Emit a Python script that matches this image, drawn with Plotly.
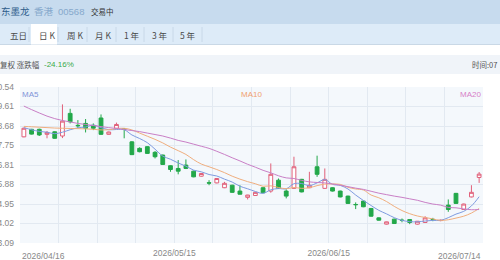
import plotly.graph_objects as go
import numpy as np

# ---------------- data ----------------
open_ = [8.16, 8.52, 8.52, 8.28, 8.40, 8.20, 9.28, 8.71, 8.80, 8.71,
         9.06, 8.28, 8.57, 8.54, 7.92, 7.61, 7.69, 7.42, 7.29, 6.78,
         6.65, 6.81, 6.52, 6.28, 5.97, 5.96, 5.73, 5.85, 5.57, 5.27,
         5.36, 5.73, 5.57, 6.09, 5.57, 5.70, 6.13, 5.73, 6.73, 5.70,
         5.73, 5.57, 5.33, 4.93, 5.09, 4.74, 4.29, 3.99, 4.23, 4.18,
         4.21, 3.99, 4.07, 4.22, 4.16, 4.90, 5.46, 4.69, 5.29, 6.22]
high = [8.60, 8.54, 8.55, 8.44, 8.42, 9.71, 9.50, 8.96, 9.01, 8.80,
        9.23, 8.41, 8.84, 8.55, 7.95, 7.66, 7.71, 7.48, 7.31, 6.80,
        7.05, 7.08, 6.55, 6.43, 6.09, 6.19, 6.01, 5.87, 5.85, 5.39,
        5.52, 5.75, 6.89, 6.17, 5.65, 7.21, 6.15, 6.49, 7.26, 6.65,
        5.75, 5.59, 5.35, 5.03, 5.11, 4.76, 4.31, 4.11, 4.25, 4.26,
        4.23, 4.14, 4.37, 4.29, 4.21, 5.17, 5.48, 4.97, 5.85, 6.48]
low = [8.14, 8.27, 8.20, 8.09, 8.07, 8.10, 8.80, 8.57, 8.37, 8.48,
       8.25, 8.26, 8.56, 8.09, 7.29, 7.42, 7.35, 7.13, 6.82, 6.49,
       6.37, 6.62, 6.23, 6.26, 5.85, 5.94, 5.71, 5.49, 5.41, 5.17,
       5.34, 5.47, 5.49, 5.68, 5.22, 5.68, 5.51, 5.71, 6.25, 5.68,
       5.55, 5.27, 4.96, 4.71, 4.80, 4.35, 4.16, 3.97, 4.00, 4.08,
       3.99, 3.97, 4.05, 4.13, 4.13, 4.58, 4.96, 4.67, 5.27, 5.96]
close = [8.57, 8.29, 8.25, 8.37, 8.09, 8.91, 8.88, 8.69, 8.57, 8.57,
         8.28, 8.39, 8.75, 8.52, 7.31, 7.45, 7.37, 7.21, 6.84, 6.60,
         6.52, 6.65, 6.25, 6.41, 5.95, 6.17, 5.94, 5.51, 5.42, 5.38,
         5.51, 5.49, 6.37, 5.70, 5.33, 6.73, 5.53, 5.85, 6.37, 6.13,
         5.57, 5.29, 4.98, 4.92, 4.82, 4.37, 4.18, 4.10, 4.02, 4.17,
         4.07, 4.13, 4.29, 4.21, 4.17, 4.69, 4.98, 4.95, 5.51, 6.38]
ma5 = [8.60, 8.50, 8.42, 8.38, 8.31, 8.38, 8.50, 8.59, 8.63, 8.72,
       8.60, 8.50, 8.51, 8.50, 8.25, 8.08, 7.88, 7.57, 7.24, 7.09,
       6.91, 6.76, 6.57, 6.49, 6.36, 6.29, 6.14, 6.00, 5.80, 5.68,
       5.55, 5.46, 5.63, 5.69, 5.68, 5.92, 5.93, 5.83, 5.96, 6.12,
       5.89, 5.84, 5.67, 5.38, 5.12, 4.88, 4.65, 4.48, 4.30, 4.17,
       4.11, 4.10, 4.14, 4.17, 4.17, 4.30, 4.47, 4.60, 4.86, 5.30]
ma10 = [8.66, 8.64, 8.62, 8.60, 8.58, 8.57, 8.56, 8.55, 8.54, 8.52,
        8.49, 8.50, 8.55, 8.57, 8.49, 8.34, 8.19, 8.04, 7.87, 7.67,
        7.50, 7.32, 7.07, 6.86, 6.73, 6.60, 6.45, 6.28, 6.14, 6.02,
        5.92, 5.80, 5.82, 5.74, 5.68, 5.74, 5.70, 5.73, 5.83, 5.90,
        5.91, 5.89, 5.75, 5.67, 5.62, 5.38, 5.25, 5.07, 4.84, 4.64,
        4.49, 4.38, 4.31, 4.24, 4.17, 4.20, 4.28, 4.37, 4.52, 4.74]
ma20 = [9.63, 9.46, 9.30, 9.15, 9.03, 8.94, 8.87, 8.80, 8.75, 8.70,
        8.65, 8.60, 8.56, 8.51, 8.46, 8.41, 8.34, 8.27, 8.20, 8.10,
        7.99, 7.91, 7.81, 7.71, 7.61, 7.47, 7.32, 7.16, 7.01, 6.85,
        6.71, 6.56, 6.44, 6.30, 6.20, 6.17, 6.08, 6.01, 5.98, 5.96,
        5.91, 5.85, 5.78, 5.71, 5.65, 5.56, 5.47, 5.40, 5.33, 5.27,
        5.20, 5.13, 5.03, 4.95, 4.90, 4.79, 4.77, 4.72, 4.68, 4.69]
y_tick_labels = ["10.54", "9.61", "8.68", "7.75", "6.81", "5.88", "4.95", "4.02", "3.09"]
x_tick_labels = ["2026/04/16", "2026/05/15", "2026/06/15", "2026/07/14"]
x_tick_index = [0, 20, 40, 59]
ma_names = ["MA5", "MA10", "MA20"]

# ---------------- style ----------------
RED = "#E0607A"
GREEN = "#23A84A"
MA_COLORS = ["#7E9BE0", "#F0AE7E", "#C97FC6"]
MA_LABEL_COLORS = ["#8093D8", "#F0A070", "#D77FC8"]
FONT = "Liberation Sans, Arial, Noto Sans CJK SC"
CJK = "Noto Sans CJK SC, Liberation Sans"

W, H = 500, 260
L, R, T, B = 20, 483, 87, 243
n = len(close)
xs = list(range(n))


def px(x):
    return (x - L) / (R - L)


def py(y):
    return (B - y) / (B - T)


fig = go.Figure()
fig.add_trace(go.Candlestick(
    x=xs, open=open_, high=high, low=low, close=close,
    increasing=dict(line=dict(color=RED, width=1), fillcolor="white"),
    decreasing=dict(line=dict(color=GREEN, width=1), fillcolor=GREEN),
    whiskerwidth=0, showlegend=False, hoverinfo="skip"))
for name, vals, col in zip(ma_names, [ma5, ma10, ma20], MA_COLORS):
    fig.add_trace(go.Scatter(x=xs, y=vals, mode="lines", name=name,
                             line=dict(color=col, width=1, shape="spline"),
                             showlegend=False, hoverinfo="skip"))

ymin, ymax = float(y_tick_labels[-1]), float(y_tick_labels[0])
ytv = list(np.linspace(ymax, ymin, len(y_tick_labels)))

grid_x = [-0.5 + 5 * k for k in range(13)]
mid_pos = {x_tick_index[i] - 0.5: x_tick_labels[i] for i in (1, 2)}
xtt = [mid_pos.get(g, "") for g in grid_x]

shapes = []
annos = []
# header bars
shapes.append(dict(type="rect", xref="paper", yref="paper", x0=px(0), x1=px(W), y0=py(24), y1=py(0),
                   fillcolor="#C7DBEE", line=dict(width=0)))
shapes.append(dict(type="rect", xref="paper", yref="paper", x0=px(0), x1=px(W), y0=py(44), y1=py(24),
                   fillcolor="#DDEBF8", line=dict(width=0)))
shapes.append(dict(type="line", xref="paper", yref="paper", x0=px(0), x1=px(W), y0=py(44.5), y1=py(44.5),
                   line=dict(color="#C9D8E6", width=1)))
shapes.append(dict(type="rect", xref="paper", yref="paper", x0=px(31), x1=px(57), y0=py(44.5), y1=py(24),
                   fillcolor="white", line=dict(width=0)))
for sx in [29, 58, 87, 116, 144, 173, 202]:
    shapes.append(dict(type="line", xref="paper", yref="paper", x0=px(sx), x1=px(sx), y0=py(42), y1=py(27),
                       line=dict(color="#C8D8E8", width=1)))
shapes.append(dict(type="rect", xref="paper", yref="paper", x0=px(0), x1=px(W), y0=py(74), y1=py(55),
                   fillcolor="#F0F4F9", line=dict(width=0)))


def txt(t, x, y, size, color, anchor="left", family=CJK):
    annos.append(dict(text=t, x=px(x), y=py(y), xref="paper", yref="paper", xanchor=anchor,
                      yanchor="middle", showarrow=False, font=dict(size=size, color=color, family=family)))


txt("东墨龙", -1, 11, 9.5, "#2E5B8A")
txt("香港", 32, 11, 9.5, "#86A9CC")
txt("00568", 56, 11, 9.5, "#86A9CC", family=FONT)
txt("交易中", 89, 11, 7.5, "#333333")
for t, x in [("五日", 8), ("日 K", 37), ("周 K", 65), ("月 K", 93), ("1 年", 122), ("3 年", 150), ("5 年", 178)]:
    txt(t, x, 35, 8.5, "#4A4A4A")
txt("复权 涨跌幅", -2, 64, 7.5, "#555555")
txt("-24.16%", 42, 64, 8, "#3BAA4A", family=FONT)
txt("时间:07", 499, 64, 7.5, "#555555", anchor="right")

# MA labels
txt(ma_names[0], L, 94, 8, MA_LABEL_COLORS[0], "left", FONT)
txt(ma_names[1], (L + R) / 2, 94, 8, MA_LABEL_COLORS[1], "center", FONT)
txt(ma_names[2], R, 94, 8, MA_LABEL_COLORS[2], "right", FONT)

# edge date labels
annos.append(dict(text=x_tick_labels[0], x=x_tick_index[0] - 0.5, y=py(256), xref="x", yref="paper",
                  xanchor="left", yanchor="middle", showarrow=False,
                  font=dict(size=8.5, color="#888888", family=FONT)))
annos.append(dict(text=x_tick_labels[-1], x=x_tick_index[-1] + 0.5, y=py(256), xref="x", yref="paper",
                  xanchor="right", yanchor="middle", showarrow=False,
                  font=dict(size=8.5, color="#888888", family=FONT)))

fig.update_layout(
    width=W, height=H, margin=dict(l=L, r=W - R, t=T, b=H - B, pad=0, autoexpand=False),
    paper_bgcolor="white", plot_bgcolor="#F4F8FC",
    shapes=shapes, annotations=annos, showlegend=False,
    xaxis=dict(range=[-0.5, n - 0.5], tickvals=grid_x, ticktext=xtt, showgrid=True,
               gridcolor="#E2E9F1", gridwidth=1, zeroline=False, showline=False, ticks="",
               rangeslider=dict(visible=False), fixedrange=True, automargin=False,
               tickfont=dict(size=8.5, color="#888888", family=FONT), ticklabelstandoff=3),
    yaxis=dict(range=[ymin, ymax], tickvals=ytv, ticktext=y_tick_labels, showgrid=True,
               gridcolor="#E2E9F1", gridwidth=1, zeroline=False, showline=False, ticks="",
               tickfont=dict(size=8.5, color="#888888", family=FONT), ticklabelstandoff=5,
               fixedrange=True, automargin=False),
)

fig.write_html("out.html")
